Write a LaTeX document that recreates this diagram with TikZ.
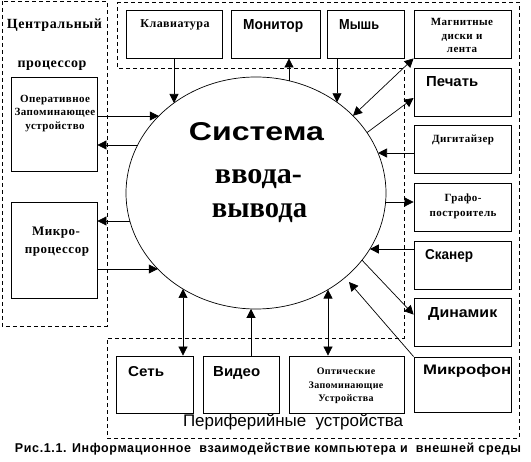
\documentclass[tikz,border=0pt]{standalone}
\usepackage{graphicx}
\usepackage{fontspec}
\setmainfont{Liberation Serif}
\setsansfont{Liberation Sans}
\newfontfamily\tms[LetterSpace=4]{Liberation Serif}
\newfontfamily\capf[LetterSpace=5]{Liberation Sans}
\usetikzlibrary{arrows.meta,shapes.geometric}
\newcommand\mkbox[5]{\node[bx,minimum width={#4-#2},minimum height={#5-#3}] (#1) at ({(#2+#4)/2},{(#3+#5)/2}) {};}
\newcommand\ptup[2]{\coordinate (#1) at ({#2},{193-116*sqrt(1-((#2-256)/130)*((#2-256)/130))});}
\newcommand\ptdn[2]{\coordinate (#1) at ({#2},{193+116*sqrt(1-((#2-256)/130)*((#2-256)/130))});}
\newcommand\ptlf[2]{\coordinate (#1) at ({256-130*sqrt(1-((#2-193)/116)*((#2-193)/116))},{#2});}
\newcommand\ptrt[2]{\coordinate (#1) at ({256+130*sqrt(1-((#2-193)/116)*((#2-193)/116))},{#2});}
\newcommand\sflab[5]{\node[anchor=base west,inner sep=0] (#1) at (#2,#3) {\resizebox{#4pt}{10pt}{\sffamily\bfseries #5}};}
\newcommand\tlab[5]{\node[anchor=base,inner sep=0] (#1) at (#2,#3) {\fontsize{#4}{#4}\tms\bfseries #5};}
\begin{document}
\begin{tikzpicture}[x=1pt,y=-1pt,
  bx/.style={draw,line width=0.8pt,inner sep=0},
  dsh/.style={draw,line width=0.8pt,dash pattern=on 4pt off 3pt},
  arr/.style={line width=0.7pt,-{Triangle[length=9pt,width=9pt]}},
  arrb/.style={line width=0.7pt,{Triangle[length=9pt,width=9pt]}-{Triangle[length=9pt,width=9pt]}}]
\fill[white] (0,0) rectangle (531,462);
\useasboundingbox (0,0) rectangle (531,462);
% dashed groups
\draw[dsh] (2,1) rectangle (107,326);
\draw[dsh] (117,2) -- (519,2) -- (519,438) -- (107,438) -- (107,338) -- (404,338) -- (404,68) -- (117,68) -- cycle;
% ellipse
\node[draw,ellipse,line width=0.7pt,minimum width=260,minimum height=232,inner sep=0] (ell) at (256,193) {};
% boxes
\mkbox{kl}{126}{10}{222}{58}
\mkbox{mon}{231}{10}{320}{58}
\mkbox{mys}{327}{10}{404}{58}
\mkbox{mag}{414}{10}{511}{58}
\mkbox{pech}{414}{68}{511}{116}
\mkbox{dig}{414}{125}{511}{173}
\mkbox{graf}{414}{183}{511}{231}
\mkbox{scan}{414}{241}{511}{289}
\mkbox{din}{414}{298}{511}{346}
\mkbox{mic}{414}{357}{511}{412}
\mkbox{set}{116}{356}{193}{413}
\mkbox{vid}{203}{356}{279}{413}
\mkbox{opt}{289}{356}{404}{413}
\mkbox{ozu}{11}{77}{97}{171}
\mkbox{mp}{11}{202}{97}{298}
% texts in ellipse
\node[anchor=base,inner sep=0] (t1) at (256.5,141) {\resizebox{135pt}{18pt}{\sffamily\bfseries Система}};
\node[anchor=base,inner sep=0] (t2) at (258.5,184) {\resizebox{87pt}{14pt}{\bfseries ввода-}};
\node[anchor=base,inner sep=0] (t3) at (259.5,218) {\resizebox{95pt}{14pt}{\bfseries вывода}};
% sans labels
\sflab{lmon}{243}{30}{60}{Монитор}
\sflab{lmys}{339}{30}{40}{Мышь}
\sflab{lpech}{426}{87}{52}{Печать}
\sflab{lscan}{425}{260}{48}{Сканер}
\sflab{ldin}{428}{318}{69}{Динамик}
\sflab{lmic}{423}{375}{88}{Микрофон}
\sflab{lset}{128}{377}{36}{Сеть}
\sflab{lvid}{213}{377}{47}{Видео}
% serif labels
\tlab{cp1}{54.5}{29}{14}{Центральный}
\tlab{cp2}{52}{68}{14}{процессор}
\tlab{lkl}{175}{28}{12}{Клавиатура}
\tlab{lmag1}{462}{26}{11}{Магнитные}
\tlab{lmag2}{462}{39.5}{11}{диски и}
\tlab{lmag3}{462}{53}{11}{лента}
\tlab{ldig}{463}{143}{11}{Дигитайзер}
\tlab{lgraf1}{463}{202}{11}{Графо-}
\tlab{lgraf2}{463}{217}{11}{построитель}
\tlab{lozu1}{55}{103}{11}{Оперативное}
\tlab{lozu2}{55}{116}{11}{Запоминающее}
\tlab{lozu3}{55}{130}{11}{устройство}
\tlab{lmp1}{56}{236}{13}{Микро-}
\tlab{lmp2}{57}{254}{13}{процессор}
\tlab{lopt1}{346}{375}{10}{Оптические}
\tlab{lopt2}{346}{388.5}{10}{Запоминающие}
\tlab{lopt3}{346}{402}{10}{Устройства}
\node[anchor=base,inner sep=0] (lper) at (293,427) {\resizebox{220pt}{12.5pt}{\sffamily Периферийные\ \ устройства}};
\node[anchor=base,inner sep=0] (cap) at (268,453) {\resizebox{506pt}{9.5pt}{\capf\bfseries Рис.1.1. Информационное\ \ взаимодействие компьютера и\ \ внешней среды}};
% ellipse contact points
\ptup{eKl}{174}
\ptup{eMon}{289}
\ptup{eMys}{337}
\ptup{eMag}{353}
\ptup{ePech}{367}
\ptrt{eDig}{153}
\ptrt{eGraf}{202}
\ptrt{eScan}{249}
\ptdn{eDin}{362}
\coordinate (eMic) at (349,282);
\ptdn{eOpt}{328}
\ptdn{eVid}{251}
\ptdn{eSet}{183}
\ptlf{eO1}{116}
\ptlf{eO2}{145}
\ptlf{eM1}{221}
\ptlf{eM2}{269}
% connectors
\draw[arr] (kl.south) -- (eKl);
\draw[arr] (eMon) -- (eMon |- mon.south);
\draw[arr] (mys.south -| eMys) -- (eMys);
\draw[arrb] (eMag) -- (mag.south west);
\draw[arr] (ePech) -- ([yshift=-6pt]pech.west);
\draw[arr] (dig.west |- eDig) -- (eDig);
\draw[arr] (eGraf) -- (graf.west |- eGraf);
\draw[arr] (scan.west |- eScan) -- (eScan);
\draw[arr] (eDin) -- ([yshift=-17pt]din.north west);
\draw[arr] (mic.north west) -- (eMic);
\draw[arrb] (eOpt) -- (eOpt |- opt.north);
\draw[arr] (vid.north -| eVid) -- (eVid);
\draw[arrb] (eSet) -- (eSet |- set.north);
\draw[arr] (ozu.east |- eO1) -- (eO1);
\draw[arr] (eO2) -- (ozu.east |- eO2);
\draw[arr] (eM1) -- (mp.east |- eM1);
\draw[arr] (mp.east |- eM2) -- (eM2);
\end{tikzpicture}
\end{document}
